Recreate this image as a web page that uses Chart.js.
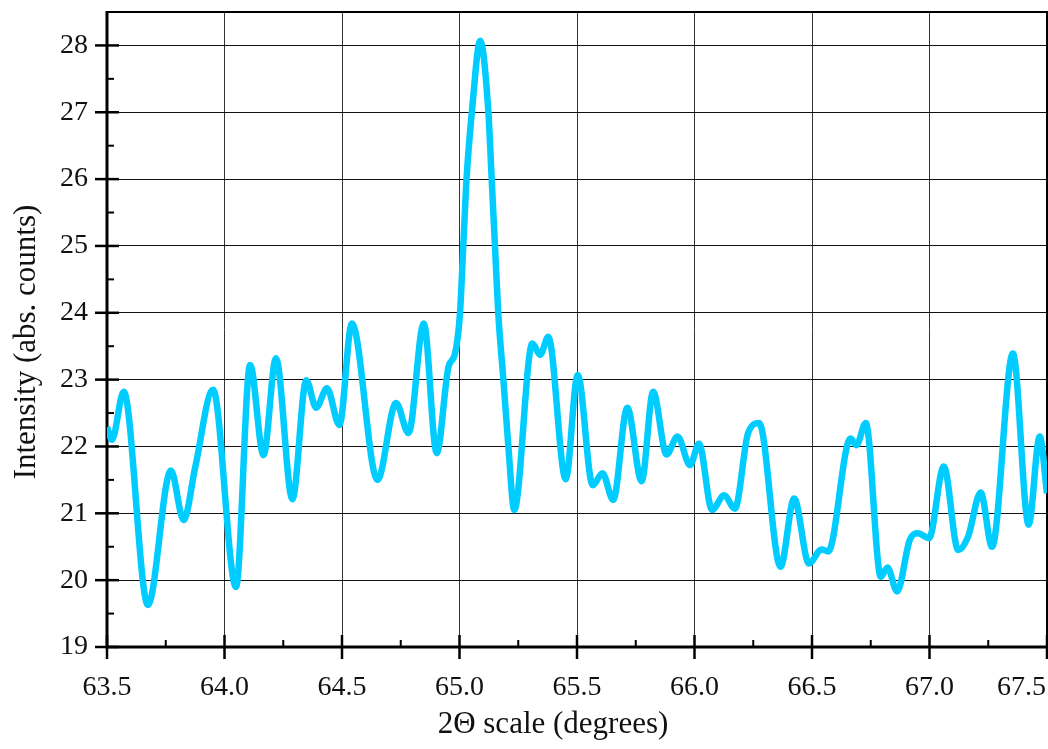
<!DOCTYPE html>
<html>
<head>
<meta charset="utf-8">
<script src="https://cdn.jsdelivr.net/npm/chart.js@4.4.0/dist/chart.umd.min.js"></script>
<style>
  html, body { margin: 0; padding: 0; background: #fff; }
  #wrap { width: 1048px; height: 749px; }
</style>
</head>
<body>
<div id="wrap"><canvas id="xrdChart"></canvas></div>
<script>
// scan data
const twoTheta = [
  63.500, 63.521, 63.571, 63.674, 63.772, 63.826, 63.876, 63.951, 64.049, 64.109,
  64.166, 64.219, 64.289, 64.348, 64.390, 64.436, 64.489, 64.542, 64.651, 64.730,
  64.783, 64.848, 64.903, 64.953, 64.981, 65.002, 65.016, 65.030, 65.055, 65.088,
  65.123, 65.137, 65.151, 65.165, 65.187, 65.208, 65.233, 65.310, 65.343, 65.378,
  65.452, 65.503, 65.567, 65.608, 65.654, 65.714, 65.775, 65.824, 65.881, 65.928,
  65.981, 66.019, 66.075, 66.126, 66.172, 66.228, 66.275, 66.366, 66.424, 66.487,
  66.541, 66.569, 66.664, 66.689, 66.729, 66.793, 66.821, 66.862, 66.916, 66.951,
  66.998, 67.061, 67.122, 67.164, 67.218, 67.266, 67.355, 67.422, 67.469, 67.500
];
const intensity = [
  22.29, 22.10, 22.82, 19.63, 21.64, 20.90, 21.70, 22.85, 19.90, 23.22,
  21.87, 23.32, 21.21, 22.99, 22.58, 22.87, 22.32, 23.84, 21.50, 22.65,
  22.20, 23.84, 21.90, 23.19, 23.39, 23.99, 24.99, 26.00, 27.10, 28.07,
  27.00, 26.00, 24.99, 23.99, 22.99, 22.00, 21.05, 23.54, 23.37, 23.64,
  21.51, 23.07, 21.42, 21.60, 21.20, 22.58, 21.48, 22.82, 21.88, 22.15,
  21.72, 22.04, 21.05, 21.27, 21.07, 22.20, 22.35, 20.20, 21.22, 20.25,
  20.46, 20.43, 22.12, 22.02, 22.35, 20.05, 20.19, 19.83, 20.60, 20.70,
  20.63, 21.70, 20.45, 20.65, 21.31, 20.50, 23.39, 20.83, 22.15, 21.30
];
const xTicks = [63.5, 64.0, 64.5, 65.0, 65.5, 66.0, 66.5, 67.0, 67.5];
const xTickLabels = ['63.5', '64.0', '64.5', '65.0', '65.5', '66.0', '66.5', '67.0', '67.5'];
const yTicks = [19, 20, 21, 22, 23, 24, 25, 26, 27, 28];
const xTitle = '2\u0398 scale (degrees)';
const yTitle = 'Intensity (abs. counts)';

const points = twoTheta.map((x, i) => ({ x: x, y: intensity[i] }));
const FONT = '"Liberation Serif", "Times New Roman", serif';

// tick marks, frame and axis texts
const axisDecor = {
  id: 'axisDecor',
  beforeDatasetsDraw(chart) {
    const ctx = chart.ctx;
    const a = chart.chartArea;
    const xs = chart.scales.x, ys = chart.scales.y;
    ctx.save();
    ctx.strokeStyle = '#000';
    // y ticks
    for (let v = 19; v <= 28; v += 0.5) {
      const py = ys.getPixelForValue(v);
      ctx.beginPath();
      if (Number.isInteger(v)) {
        ctx.lineWidth = 2.5;
        ctx.moveTo(a.left - 12, py); ctx.lineTo(a.left + 12, py);
      } else {
        ctx.lineWidth = 2;
        ctx.moveTo(a.left, py); ctx.lineTo(a.left + 7, py);
      }
      ctx.stroke();
    }
    // x ticks
    for (let v = 63.5; v <= 67.5001; v += 0.25) {
      const px = xs.getPixelForValue(v);
      ctx.beginPath();
      if (Math.abs(v * 2 - Math.round(v * 2)) < 1e-6) {
        ctx.lineWidth = 2.5;
        ctx.moveTo(px, a.bottom - 12); ctx.lineTo(px, a.bottom + 12);
      } else {
        ctx.lineWidth = 2;
        ctx.moveTo(px, a.bottom - 7); ctx.lineTo(px, a.bottom);
      }
      ctx.stroke();
    }
    // frame
    ctx.lineWidth = 2;
    ctx.beginPath();
    ctx.moveTo(a.left, a.top); ctx.lineTo(a.right, a.top); ctx.lineTo(a.right, a.bottom);
    ctx.stroke();
    ctx.lineWidth = 3;
    ctx.beginPath();
    ctx.moveTo(a.left, a.top - 1); ctx.lineTo(a.left, a.bottom); ctx.lineTo(a.right + 1, a.bottom);
    ctx.stroke();
    ctx.restore();
  },
  afterDraw(chart) {
    const ctx = chart.ctx;
    const xs = chart.scales.x;
    const W = chart.width;
    ctx.save();
    ctx.fillStyle = '#111';
    ctx.font = '28px ' + FONT;
    ctx.textBaseline = 'alphabetic';
    xTicks.forEach((v, i) => {
      const px = xs.getPixelForValue(v);
      const w = ctx.measureText(xTickLabels[i]).width;
      let left = px - w / 2;
      if (left + w > W - 2) left = W - 2 - w;
      ctx.textAlign = 'left';
      ctx.fillText(xTickLabels[i], left, 695);
    });
    ctx.font = '31px ' + FONT;
    ctx.textAlign = 'center';
    ctx.fillText(xTitle, 553, 733);
    ctx.translate(35, 342);
    ctx.rotate(-Math.PI / 2);
    ctx.fillText(yTitle, 0, 0);
    ctx.restore();
  }
};

const ctx = document.getElementById('xrdChart').getContext('2d');
const xrdChart = new Chart(ctx, {
  type: 'line',
  data: {
    datasets: [{
      label: 'Intensity',
      data: points,
      borderColor: '#00CCFF',
      borderWidth: 6.5,
      pointRadius: 0,
      fill: false,
      cubicInterpolationMode: 'monotone'
    }]
  },
  options: {
    responsive: true,
    maintainAspectRatio: false,
    animation: false,
    layout: { padding: { top: 12, right: 1, left: 0, bottom: 0 } },
    plugins: {
      legend: { display: false },
      tooltip: { enabled: false }
    },
    scales: {
      x: {
        type: 'linear',
        min: 63.5,
        max: 67.5,
        ticks: { display: false, stepSize: 0.5, includeBounds: false },
        grid: { color: '#333', lineWidth: 1, drawTicks: false },
        border: { display: false },
        afterFit(scale) {
          scale.height = 102;
          scale.paddingLeft = 0;
          scale.paddingRight = 0;
        }
      },
      y: {
        min: 19,
        max: 28.5,
        afterBuildTicks(scale) {
          scale.ticks = yTicks.map(v => ({ value: v }));
        },
        ticks: {
          color: '#111',
          padding: 19,
          font: { family: FONT, size: 28 },
          callback: (v) => String(v)
        },
        grid: { color: '#111', lineWidth: 1, drawTicks: false },
        border: { display: false },
        afterFit(scale) {
          scale.width = 107;
          scale.paddingTop = 0;
          scale.paddingBottom = 0;
        }
      }
    }
  },
  plugins: [axisDecor]
});
</script>
</body>
</html>
